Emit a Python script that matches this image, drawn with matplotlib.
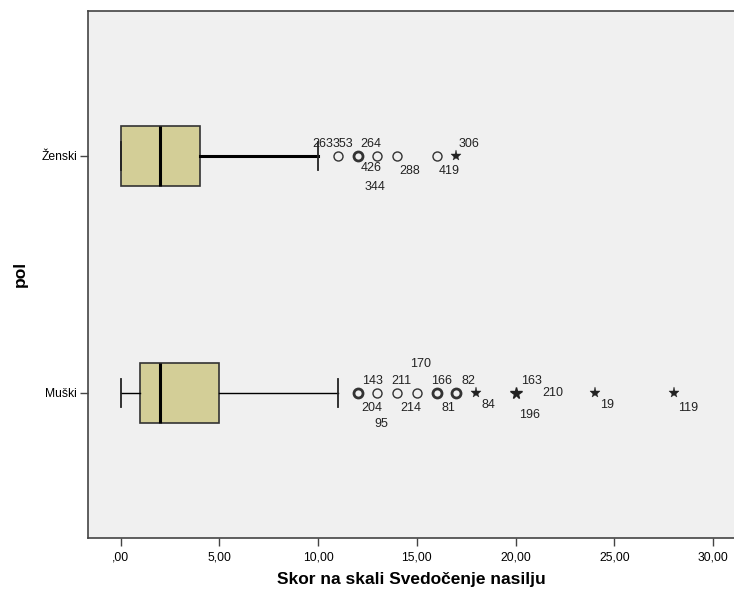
import matplotlib.pyplot as plt
from collections import Counter

plt.rcParams['font.family'] = ['Liberation Sans', 'DejaVu Sans']

categories = ['Muški', 'Ženski']

# box statistics per category (min whisker, Q1, median, Q3, max whisker)
whis_lo = [0, 0]
q1 = [1, 0]
median = [2, 2]
q3 = [5, 4]
whis_hi = [11, 10]

# outliers (circles) and extremes (stars)
muski_out = [12, 12, 12, 13, 14, 15, 16, 16, 17, 17]
muski_ext = [18, 20, 20, 20, 24, 28]
zenski_out = [11, 12, 12, 12, 13, 14, 16]
zenski_ext = [17]

# case labels: (case id, value, dx px, dy px)
muski_labels = [
    (143, 12, 14.5, -12), (204, 12, 14.5, 15), (95, 12, 23.5, 31),
    (211, 13, 24, -12), (214, 14, 14, 15), (170, 15, 4, -29),
    (166, 16, 5.5, -12), (81, 16, 12, 15), (82, 17, 12, -12),
    (84, 18, 12, 12), (163, 20, 15.5, -12), (196, 20, 14.5, 22),
    (210, 20, 37.5, 0), (19, 24, 12.5, 12), (119, 28, 14.5, 15),
]
zenski_labels = [
    (263, 11, -15.5, -12), (353, 12, -14.5, -12), (264, 13, -6, -12),
    (426, 12, 14, 12), (344, 12, 17, 31), (288, 14, 13, 15),
    (419, 16, 13, 15), (306, 17, 13, -12),
]

xticks = [0, 5, 10, 15, 20, 25, 30]
xtick_labels = [',00', '5,00', '10,00', '15,00', '20,00', '25,00', '30,00']

fig = plt.figure(figsize=(7.34, 5.92), dpi=100)
ax = fig.add_axes([88 / 734, 54 / 592, 646 / 734, 527.5 / 592])
ax.set_facecolor('#f0f0f0')

stats = []
for i, name in enumerate(categories):
    stats.append(dict(label=name, whislo=whis_lo[i], q1=q1[i], med=median[i],
                      q3=q3[i], whishi=whis_hi[i], fliers=[]))

whisker_lw = [1.0, 2.2]
for i, st in enumerate(stats):
    ax.bxp([st], positions=[i], vert=False, widths=0.253, capwidths=0.12,
           patch_artist=True, showfliers=False,
           boxprops=dict(facecolor='#d3ce97', edgecolor='#333333', linewidth=1.2),
           medianprops=dict(color='black', linewidth=2.2),
           whiskerprops=dict(color='black', linewidth=whisker_lw[i]),
           capprops=dict(color='#222222', linewidth=1.3))

groups = [(muski_out, muski_ext, muski_labels), (zenski_out, zenski_ext, zenski_labels)]
for i, (outs, exts, labels) in enumerate(groups):
    for v, n in Counter(outs).items():
        ax.plot(v, i, 'o', markersize=6.5, markerfacecolor='none',
                markeredgecolor='#333333', markeredgewidth=1.0 if n == 1 else 2.0)
    for v, n in Counter(exts).items():
        ax.plot(v, i, '*', markersize=8 if n == 1 else 8.5, color='#222222',
                markeredgewidth=0.3 if n == 1 else 1.0)
    for cid, v, dx, dy in labels:
        ax.annotate(str(cid), (v, i), xytext=(dx, -dy), textcoords='offset pixels',
                    ha='center', va='center', fontsize=9, color='#222222')

ax.set_xlim(-1.646, 31.06)
ax.set_ylim(-0.612, 1.613)
ax.set_xticks(xticks)
ax.set_xticklabels(xtick_labels, fontsize=8.7)
ax.set_yticks([0, 1])
ax.set_yticklabels(categories, fontsize=8.7)
ax.tick_params(axis='both', length=6, color='#444444', width=1, pad=2)
ax.tick_params(axis='x', pad=4)

for side in ['left', 'bottom', 'top']:
    ax.spines[side].set_color('#444444')
    ax.spines[side].set_linewidth(1.2)
ax.spines['right'].set_visible(False)

ax.set_xlabel('Skor na skali Svedočenje nasilju', fontsize=12.5, fontweight='bold')
ax.xaxis.set_label_coords(0.5, -0.064)
ax.set_ylabel('pol', fontsize=12.5, fontweight='bold')
ax.yaxis.set_label_coords(-0.093, 0.5)

fig.savefig('out.png', dpi=100)
